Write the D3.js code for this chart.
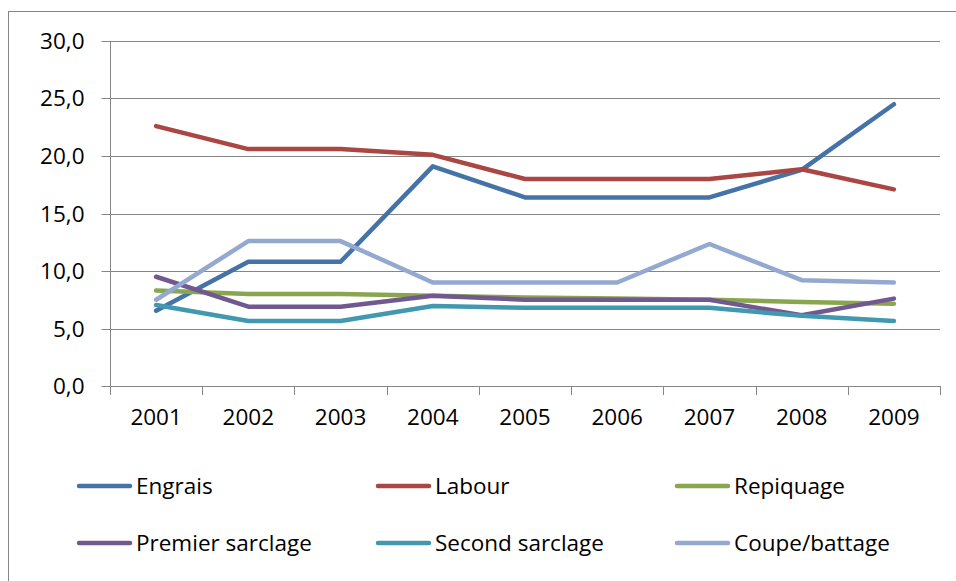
<!DOCTYPE html>
<html><head><meta charset="utf-8">
<script src="https://cdn.jsdelivr.net/npm/d3@7"></script>
<style>
html,body{margin:0;padding:0;background:#fff;}
svg{display:block;font-family:"Open Sans",sans-serif;}
</style></head>
<body><svg id="c" width="956" height="581"></svg>
<script>
const years = ["2001","2002","2003","2004","2005","2006","2007","2008","2009"];
const seriesNames = ["Engrais","Labour","Repiquage","Premier sarclage","Second sarclage","Coupe/battage"];
const engrais   = [6.55, 10.8, 10.8, 19.1, 16.4, 16.4, 16.4, 18.8, 24.5];
const labour    = [22.6, 20.6, 20.6, 20.1, 18.0, 18.0, 18.0, 18.85, 17.1];
const repiquage = [8.3, 8.0, 8.0, 7.85, 7.7, 7.6, 7.5, 7.3, 7.15];
const premier   = [9.5, 6.9, 6.9, 7.85, 7.5, 7.5, 7.5, 6.15, 7.6];
const second    = [7.05, 5.65, 5.65, 6.95, 6.8, 6.8, 6.8, 6.1, 5.65];
const coupe     = [7.5, 12.6, 12.6, 9.0, 9.0, 9.0, 12.35, 9.2, 9.0];
const yTicks = [0, 5, 10, 15, 20, 25, 30];
const colors = ["#4572A7","#AA4643","#89A54E","#71588F","#4198AF","#93A9CF"];
const seriesValues = [engrais, labour, repiquage, premier, second, coupe];

const FS = 22.5;
const svg = d3.select("#c");
// outer chart border
svg.append("rect").attr("x",8.5).attr("y",11.5).attr("width",960).attr("height",600)
  .attr("fill","none").attr("stroke","#868686").attr("stroke-width",1);

const L=110, R=940, T=41, B=386;
const x = d3.scaleBand().domain(years).range([L,R]).padding(0);
const y = d3.scaleLinear().domain([0,30]).range([B,T]);
const fmt = d => d3.format(".1f")(d).replace(".", ",");

// gridlines
svg.append("g").selectAll("line").data(yTicks).join("line")
  .attr("x1",L).attr("x2",R).attr("y1",d=>Math.round(y(d))+0.5).attr("y2",d=>Math.round(y(d))+0.5)
  .attr("stroke","#868686").attr("stroke-width",1);

// y axis
const ya = svg.append("g").attr("transform",`translate(${L+0.5},0)`)
  .call(d3.axisLeft(y).tickValues(yTicks).tickFormat(fmt).tickSize(9).tickPadding(17));
ya.select(".domain").attr("stroke","#868686").attr("d",`M0,${T}V${B}`);
ya.selectAll(".tick line").attr("stroke","#868686");
ya.selectAll(".tick").attr("transform",d=>`translate(0,${Math.round(y(d))+0.5})`);
ya.selectAll("text").attr("font-size",FS).attr("fill","#000").attr("font-family","Open Sans");

// x axis
const xa = svg.append("g").attr("transform",`translate(0,${B+0.5})`)
  .call(d3.axisBottom(x).tickSize(0).tickPadding(23));
xa.select(".domain").attr("stroke","#868686").attr("d",`M${L},0H${R}`);
xa.selectAll("text").attr("font-size",FS).attr("fill","#000").attr("font-family","Open Sans");
// x tick marks at category boundaries
const bounds = years.map(d=>x(d)).concat([R]);
svg.append("g").selectAll("line").data(bounds).join("line")
  .attr("x1",d=>Math.round(d)+0.5).attr("x2",d=>Math.round(d)+0.5)
  .attr("y1",B).attr("y2",B+9).attr("stroke","#868686");

// lines
const line = d3.line().x((d,i)=>x(years[i])+x.bandwidth()/2).y(d=>y(d));
seriesValues.forEach((vals,i)=>{
  svg.append("path").datum(vals).attr("d",line).attr("fill","none")
    .attr("stroke",colors[i]).attr("stroke-width",4.5)
    .attr("stroke-linejoin","round").attr("stroke-linecap","round");
});

// legend
const legX = [77, 376, 675], legY = [486, 543];
seriesNames.forEach((n,i)=>{
  const cx = legX[i%3], cy = legY[Math.floor(i/3)];
  svg.append("line").attr("x1",cx+2).attr("x2",cx+53).attr("y1",cy).attr("y2",cy)
    .attr("stroke",colors[i]).attr("stroke-width",4.5).attr("stroke-linecap","round");
  svg.append("text").attr("x",cx+59).attr("y",cy).attr("dy","0.35em")
    .attr("font-size",FS).attr("font-family","Open Sans").text(n);
});
</script></body></html>
